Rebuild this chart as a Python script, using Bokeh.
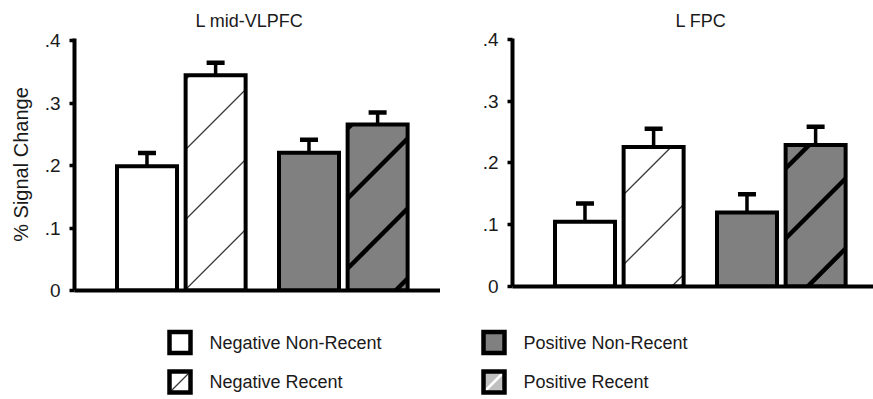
import math
from bokeh.plotting import figure
from bokeh.models import (ColumnDataSource, Range1d, FixedTicker, Whisker, TeeHead, Title)
from bokeh.layouts import column, row
from bokeh.core.properties import value
from bokeh.embed import file_html
from bokeh.resources import INLINE

# ---------------- data ----------------
regions = ["L mid-VLPFC", "L FPC"]
conditions = ["Negative Non-Recent", "Negative Recent", "Positive Non-Recent", "Positive Recent"]
vlpfc_mean = [0.199, 0.345, 0.221, 0.266]
vlpfc_sem = [0.0215, 0.020, 0.0205, 0.0195]
fpc_mean = [0.105, 0.226, 0.120, 0.229]
fpc_sem = [0.0295, 0.0295, 0.0295, 0.0295]
y_ticks = [0, 0.1, 0.2, 0.3, 0.4]
y_tick_labels = ["0", ".1", ".2", ".3", ".4"]
y_title = "% Signal Change"

# ---------------- style / layout ----------------
FONT = "Liberation Sans"
TEXT = "#1a1a1a"
GREY = "#808080"
LIGHT = "#c0c0c0"
LW = 4
PPX = 60.0                      # pixels per x unit
BAR_W = 1.0
group_centers = [1.78, 4.48]
half_gap = 0.572
bar_x = [group_centers[0] - half_gap, group_centers[0] + half_gap,
         group_centers[1] - half_gap, group_centers[1] + half_gap]
fills = ["white", "white", GREY, GREY]
HATCH_SPACING = 70.0


def hatch_segments(xc, top, ppy, offset):
    """45-degree (screen space) diagonal lines clipped to a bar."""
    W = BAR_W * PPX
    H = top * ppy
    xl = xc - BAR_W / 2
    out = dict(x0=[], y0=[], x1=[], y1=[])
    kmin = math.floor((-W - offset) / HATCH_SPACING)
    kmax = math.ceil((H - offset) / HATCH_SPACING)
    for k in range(kmin, kmax + 1):
        c = offset + k * HATCH_SPACING
        xa = max(0.0, -c)
        xb = min(W, H - c)
        if xb <= xa:
            continue
        out["x0"].append(xl + xa / PPX)
        out["y0"].append((xa + c) / ppy)
        out["x1"].append(xl + xb / PPX)
        out["y1"].append((xb + c) / ppy)
    return out


def panel(title, means, sems, width, height, left, top_b, bottom, frame_h, y_end,
          title_offset, off_thin, off_thick, ylabel):
    ppy = frame_h / y_end
    x_end = (width - left) / PPX
    p = figure(width=width, height=height, x_range=Range1d(0, x_end), y_range=Range1d(0, y_end),
               toolbar_location=None, output_backend="svg",
               min_border_left=left, min_border_right=0, min_border_top=top_b,
               min_border_bottom=bottom, outline_line_color=None)
    p.grid.visible = False
    # fills
    p.vbar(x=bar_x, top=means, bottom=0, width=BAR_W, fill_color=fills, line_color=None)
    # hatching
    thin = hatch_segments(bar_x[1], means[1], ppy, off_thin)
    p.segment(x0="x0", y0="y0", x1="x1", y1="y1", source=ColumnDataSource(thin),
              line_color="#3a3a3a", line_width=1.3)
    thick = hatch_segments(bar_x[3], means[3], ppy, off_thick)
    p.segment(x0="x0", y0="y0", x1="x1", y1="y1", source=ColumnDataSource(thick),
              line_color="black", line_width=4.5)
    # outlines
    p.vbar(x=bar_x, top=means, bottom=0, width=BAR_W, fill_color=None,
           line_color="black", line_width=LW, line_join="miter")
    err_src = ColumnDataSource(dict(x=bar_x, lower=means,
                                    upper=[m + e for m, e in zip(means, sems)]))
    p.add_layout(Whisker(source=err_src, base="x", lower="lower", upper="upper",
                         dimension="height", line_color="black", line_width=3.5,
                         lower_head=None,
                         upper_head=TeeHead(size=18, line_color="black", line_width=4.5)))
    # y axis
    ya = p.yaxis[0]
    ya.ticker = FixedTicker(ticks=y_ticks)
    ya.major_label_overrides = dict(zip(y_ticks, y_tick_labels))
    ya.axis_line_width = LW
    ya.major_tick_line_width = 3.5
    ya.major_tick_out = 5
    ya.major_tick_in = 0
    ya.minor_tick_line_color = None
    ya.major_label_standoff = 9
    ya.major_label_text_font = FONT
    ya.major_label_text_font_size = "19px"
    ya.major_label_text_color = TEXT
    if ylabel:
        ya.axis_label = ylabel
        ya.axis_label_text_font = FONT
        ya.axis_label_text_font_size = "20px"
        ya.axis_label_text_font_style = "normal"
        ya.axis_label_text_color = TEXT
        ya.axis_label_standoff = 10
    # x axis: line only
    xa = p.xaxis[0]
    xa.ticker = FixedTicker(ticks=[])
    xa.major_label_text_font_size = "0px"
    xa.major_tick_line_color = None
    xa.minor_tick_line_color = None
    xa.major_label_standoff = 0
    xa.axis_line_width = LW
    # panel title
    p.add_layout(Title(text=title, align="left", offset=title_offset, standoff=16,
                       text_font=FONT, text_font_size="18px", text_font_style="normal",
                       text_color=TEXT), "above")
    return p


p1 = panel(regions[0], vlpfc_mean, vlpfc_sem, width=440, height=306, left=74, top_b=38,
           bottom=16, frame_h=252, y_end=0.404, title_offset=121,
           off_thin=1, off_thick=22, ylabel=y_title)
p2 = panel(regions[1], fpc_mean, fpc_sem, width=433, height=302, left=72, top_b=38,
           bottom=16, frame_h=248, y_end=0.4016, title_offset=163,
           off_thin=22, off_thick=48, ylabel=None)

# ---------------- legend (drawn in a pixel-unit figure) ----------------
TOP_H = 306
LEG_H = 399 - TOP_H
pl = figure(width=873, height=LEG_H, x_range=Range1d(0, 873), y_range=Range1d(399, TOP_H),
            toolbar_location=None, output_backend="svg", min_border=0,
            outline_line_color=None, x_axis_type=None, y_axis_type=None)
pl.grid.visible = False
leg_col_x = [179.5, 493.5]
leg_row_y = [342.0, 381.5]
SQ = 21
TEXT_DX = 29.5
leg_fills = ["white", "white", GREY, LIGHT]
lx = [leg_col_x[i // 2] for i in range(4)]
ly = [leg_row_y[i % 2] for i in range(4)]
pl.rect(x=lx, y=ly, width=SQ, height=SQ, fill_color=leg_fills, line_color=None)
h = SQ / 2
pl.segment(x0=[lx[1] - h], y0=[ly[1] + h], x1=[lx[1] + h], y1=[ly[1] - h],
           line_color="#3a3a3a", line_width=1.3)
pl.segment(x0=[lx[3] - h, lx[3] + h - 4], y0=[ly[3] + h, ly[3] + h],
           x1=[lx[3] + h, lx[3] + h], y1=[ly[3] - h, ly[3] + h - 4],
           line_color="white", line_width=2.5)
pl.rect(x=lx, y=ly, width=SQ, height=SQ, fill_color=None, line_color="black",
        line_width=4.5, line_join="miter")
pl.text(x=[v + TEXT_DX for v in lx], y=ly, text=conditions, text_baseline="middle",
        text_align="left", text_font=value(FONT), text_font_size=value("18px"),
        text_color=TEXT)

layout = column(row(p1, p2, spacing=0), pl, spacing=0)
open("out.html", "w").write(file_html(layout, INLINE))
